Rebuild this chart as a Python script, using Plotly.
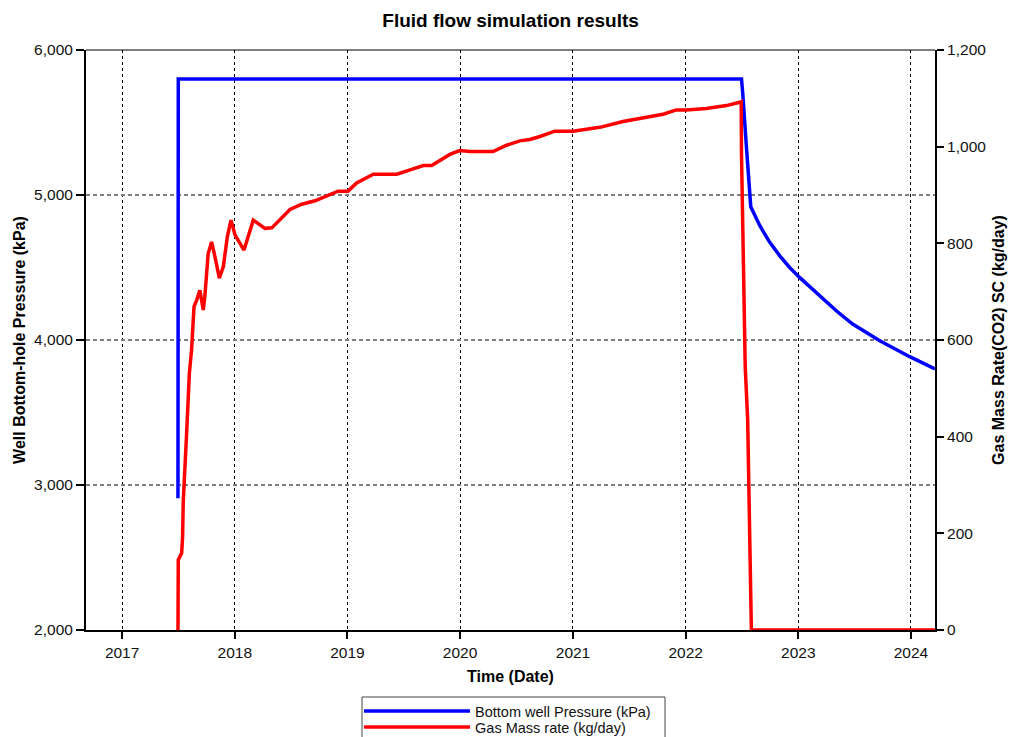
import plotly.graph_objects as go

# Bottom-hole pressure (kPa), left axis
pressure_dates = [
    "2017-07-01", "2017-07-02", "2022-07-01", "2022-07-05", "2022-07-16",
    "2022-07-27", "2022-07-31", "2022-08-29", "2022-09-30", "2022-11-02",
    "2022-12-04", "2023-01-06", "2023-03-02", "2023-05-05", "2023-06-26",
    "2023-09-22", "2023-12-28", "2024-03-19",
]
pressure_kpa = [
    2908, 5800, 5800, 5703, 5359,
    5057, 4919, 4790, 4675, 4580,
    4500, 4430, 4320, 4200, 4110,
    3995, 3885, 3800,
]

# CO2 gas mass rate (kg/day), right axis
rate_dates = [
    "2017-07-01", "2017-07-02", "2017-07-13", "2017-07-16", "2017-07-18",
    "2017-07-24", "2017-07-29", "2017-08-03", "2017-08-07", "2017-08-14",
    "2017-08-22", "2017-08-31", "2017-09-10", "2017-09-21", "2017-09-26",
    "2017-10-07", "2017-10-18", "2017-10-29", "2017-11-12", "2017-11-25",
    "2017-12-08", "2017-12-20", "2018-01-02", "2018-01-31", "2018-03-02",
    "2018-04-09", "2018-05-01", "2018-06-29", "2018-08-06", "2018-09-18",
    "2018-10-26", "2018-12-02", "2019-01-03", "2019-01-31", "2019-03-26",
    "2019-06-10", "2019-07-23", "2019-09-04", "2019-10-01", "2019-11-29",
    "2019-12-31", "2020-02-02", "2020-04-17", "2020-05-31", "2020-07-13",
    "2020-08-14", "2020-09-16", "2020-11-03", "2021-01-01", "2021-03-29",
    "2021-06-12", "2021-08-16", "2021-10-20", "2021-12-02", "2022-01-03",
    "2022-03-09", "2022-05-13", "2022-06-25", "2022-06-30", "2022-07-01",
    "2022-07-05", "2022-07-07", "2022-07-10", "2022-07-13", "2022-07-21",
    "2022-07-23", "2022-08-02", "2024-03-19",
]
rate_kg_day = [
    0, 145, 159, 193, 263,
    331, 407, 476, 532, 579,
    669, 683, 703, 662, 690,
    779, 803, 772, 728, 752,
    814, 848, 817, 786, 848,
    831, 832, 870, 881, 888,
    898, 908, 908, 925, 943,
    943, 952, 961, 961, 984,
    992, 990, 990, 1003, 1012,
    1015, 1021, 1032, 1032, 1040,
    1052, 1059, 1067, 1076, 1076,
    1079, 1085, 1092, 1093, 986,
    876, 766, 656, 545, 435,
    352, 0, 0,
]

x_range = ["2016-09-06", "2024-03-19"]
year_ticks = [f"{y}-01-01" for y in range(2017, 2025)]
year_labels = [str(y) for y in range(2017, 2025)]

FONT = "Liberation Sans, Arial, sans-serif"

fig = go.Figure()
fig.add_trace(go.Scatter(
    x=pressure_dates, y=pressure_kpa, mode="lines",
    name="Bottom well Pressure (kPa)",
    line=dict(color="#0000ff", width=3.5),
    yaxis="y", legend="legend2",
))
fig.add_trace(go.Scatter(
    x=rate_dates, y=rate_kg_day, mode="lines",
    name="Gas Mass rate (kg/day)",
    line=dict(color="#ff0000", width=3.5),
    yaxis="y2", legend="legend3",
))


def legend_row(y_top):
    # one borderless legend row; the shared frame is drawn as a shape
    return dict(
        orientation="v", x=0.3216, xanchor="left", y=y_top, yanchor="top",
        borderwidth=0, bgcolor="rgba(0,0,0,0)",
        font=dict(size=14.5, color="#111111"),
        itemwidth=106, visible=True,
    )


fig.update_layout(
    width=1011, height=737,
    margin=dict(l=86, r=76, t=50, b=107, autoexpand=False),
    paper_bgcolor="white", plot_bgcolor="white",
    font=dict(family=FONT, size=15.5, color="#111111"),
    title=dict(
        text="<b>Fluid flow simulation results</b>",
        x=0.505, xanchor="center", y=0.972, yanchor="middle",
        font=dict(size=19, color="black"),
    ),
    xaxis=dict(
        type="date", range=x_range,
        tickmode="array", tickvals=year_ticks, ticktext=year_labels,
        showgrid=True, gridcolor="black", griddash="3px,3px", gridwidth=1,
        showline=True, linecolor="black", linewidth=2,
        ticks="outside", ticklen=7, tickwidth=2, tickcolor="black",
        zeroline=False,
        title=dict(text="<b>Time (Date)</b>", font=dict(size=16, color="black"), standoff=11),
        automargin=False,
    ),
    yaxis=dict(
        range=[2000, 6000], dtick=1000, tickformat=",",
        showgrid=True, gridcolor="#7f7f7f", griddash="4px,3px", gridwidth=1.5,
        showline=True, linecolor="black", linewidth=2,
        ticks="outside", ticklen=8, tickwidth=1.5, tickcolor="black",
        zeroline=False,
        title=dict(text="<b>Well Bottom-hole Pressure (kPa)</b>", font=dict(size=16, color="black"), standoff=5),
        automargin=False,
    ),
    yaxis2=dict(
        range=[0, 1200], dtick=200, tickformat=",",
        overlaying="y", side="right",
        showgrid=False,
        showline=True, linecolor="black", linewidth=2,
        ticks="outside", ticklen=7, tickwidth=1.5, tickcolor="black",
        zeroline=False,
        title=dict(text="<b>Gas Mass Rate(CO2) SC (kg/day)</b>", font=dict(size=16, color="black"), standoff=8),
        automargin=False,
    ),
    showlegend=True,
    legend2=legend_row(-0.1121),
    legend3=legend_row(-0.1397),
    shapes=[
        # thin frame line along the top of the plot area
        dict(type="line", xref="paper", yref="paper", x0=0, x1=1, y0=1, y1=1,
             line=dict(color="black", width=1)),
        # frame around the two legend rows
        dict(type="rect", xref="paper", yref="paper",
             x0=0.3251, x1=0.682, y0=-0.1155, y1=-0.25,
             line=dict(color="#444444", width=1), fillcolor="rgba(0,0,0,0)",
             layer="below"),
    ],
)

fig.write_html("out.html")
